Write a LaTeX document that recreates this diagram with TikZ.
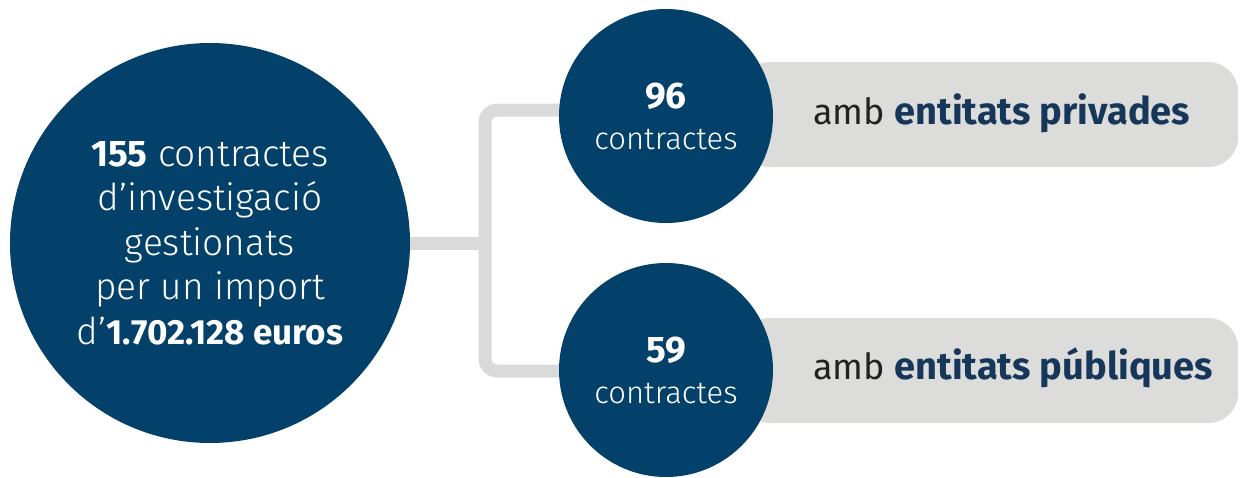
\documentclass[tikz,border=0pt]{standalone}
\usepackage{fontspec}
\setmainfont{Fira Sans}
\newfontfamily\lightfont{Fira Sans Light}
\usetikzlibrary{positioning, backgrounds}

\definecolor{circblue}{HTML}{03416A}
\definecolor{linkgray}{HTML}{DADADA}
\definecolor{boxgray}{HTML}{DCDCDB}
\definecolor{boldblue}{HTML}{17375A}
\definecolor{textdark}{HTML}{222222}

\newcommand{\figbold}[1]{{\rmfamily\bfseries #1}}

\begin{document}
\begin{tikzpicture}[x=1pt, y=-1pt,
    bigcirc/.style={circle, fill=circblue, text=white, align=center, inner sep=0},
    labelbox/.style={rectangle, rounded corners=30pt, fill=boxgray, inner sep=0},
    boxtext/.style={inner sep=0, text=textdark, font=\fontsize{36}{40}\selectfont},
    link/.style={draw=linkgray, line width=13pt}]

\useasboundingbox (0,0) rectangle (1242,477);

\node[bigcirc,
    minimum size=400pt,
    font=\lightfont\fontsize{37}{44.5}\selectfont
] (total) at (210,243) {\figbold{155} contractes\\d’investigació\\gestionats\\per un import\\d’{\fontsize{35}{44.5}\selectfont\figbold{1.702.128 euros}}};

\node[bigcirc,
    minimum size=214pt,
    font=\lightfont\fontsize{31}{41}\selectfont
] (priv) at (666,116) {{\fontsize{37}{41}\selectfont\figbold{96}}\\contractes};

\node[bigcirc,
    minimum size=214pt,
    font=\lightfont\fontsize{31}{41}\selectfont
] (publ) at (666,370) {{\fontsize{37}{41}\selectfont\figbold{59}}\\contractes};

% Forks of the connector
\coordinate (fork) at (485,243);
\coordinate (forktop) at (485,110);
\coordinate (forkbot) at (485,371);

\begin{scope}[on background layer]
% Grey labels behind the small circles
\node[labelbox,
    anchor=west,
    minimum width=498pt,
    minimum height=105pt] (privbox) at (740,114.5) {};
\node[labelbox,
    anchor=west,
    minimum width=498pt,
    minimum height=105pt] (publbox) at (740,370.5) {};

% Connector
\draw[link] (total) -- (fork);
\draw[link, rounded corners=12pt] (priv.center |- forktop) -- (forktop) -- (forkbot) -- (publ.center |- forkbot);
\end{scope}

\node[boxtext, anchor=base west] (privtext) at ([xshift=73pt, yshift=-9.5pt]privbox.west) {amb \textcolor{boldblue}{\fontsize{38}{40}\selectfont\bfseries entitats privades}};
\node[boxtext, anchor=base west] (publtext) at ([xshift=73pt, yshift=-8.5pt]publbox.west) {amb \textcolor{boldblue}{\fontsize{38}{40}\selectfont\bfseries entitats públiques}};

\end{tikzpicture}
\end{document}
